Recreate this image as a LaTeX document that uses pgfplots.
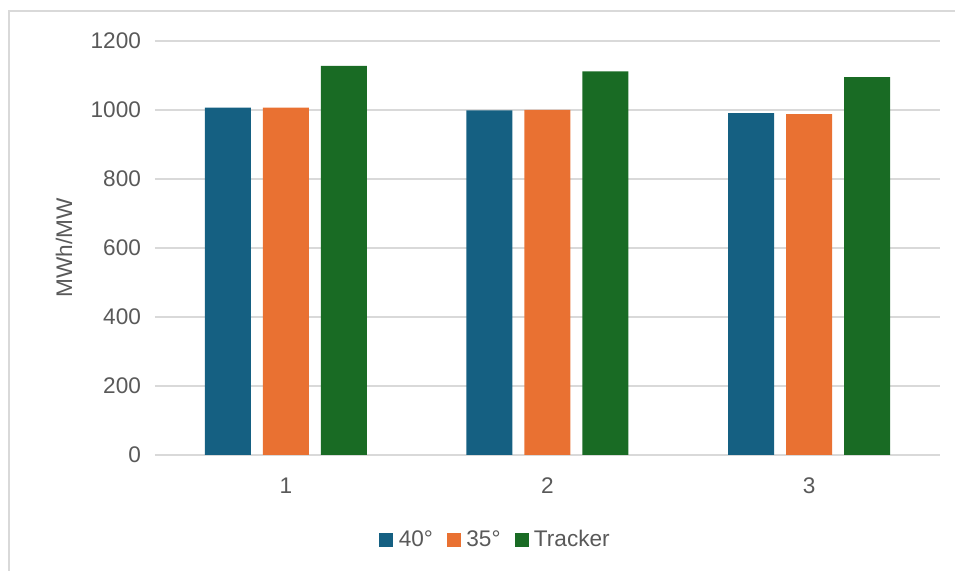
\documentclass[border=0pt]{standalone}
\usepackage{pgfplots}
\pgfplotsset{compat=1.18}
\usepackage{fontspec}
\setmainfont{Liberation Sans}
\definecolor{cA}{HTML}{156082}
\definecolor{cB}{HTML}{E97132}
\definecolor{cC}{HTML}{196B24}
\definecolor{txt}{HTML}{595959}
\definecolor{grd}{HTML}{D9D9D9}
\begin{document}
\begin{tikzpicture}
\path[use as bounding box] (-77.5pt,-58pt) rectangle (400pt,227.5pt);
\draw[grd, line width=0.75pt] (-73pt,-58pt) -- (-73pt,222pt) -- (400pt,222pt);
\begin{axis}[
  at={(0,0)}, anchor=south west,
  scale only axis, width=392.5pt, height=207pt,
  ybar=6pt, bar width=23pt,
  xmin=0.5, xmax=3.5, ymin=0, ymax=1200,
  xtick={1,2,3}, ytick={0,200,...,1200},
  axis line style={draw=none},
  major tick length=0pt,
  ymajorgrids, grid style={grd, line width=0.75pt},
  tick label style={font=\fontsize{11.3pt}{13pt}\selectfont, text=txt},
  yticklabel style={xshift=-3.5pt},
  xticklabel style={yshift=-8pt},
  /pgf/number format/assume math mode=true,
  /pgf/number format/1000 sep={},
  legend style={at={(0.4345,-42.5pt)}, anchor=center, draw=none, fill=none,
    legend columns=3, font=\fontsize{11.3pt}{13pt}\selectfont, text=txt,
    /tikz/every even column/.append style={column sep=5.5pt},
    /tikz/every odd column/.append style={column sep=1.2pt},
    nodes={inner sep=1.5pt}},
  legend image code/.code={\fill[#1] (0pt,-3.5pt) rectangle (7pt,3.5pt);},
]
\addplot[fill=cA, draw=none] coordinates {(1,1007) (2,999) (3,991)};
\addplot[fill=cB, draw=none] coordinates {(1,1007) (2,1000) (3,988)};
\addplot[fill=cC, draw=none] coordinates {(1,1128) (2,1112) (3,1095)};
\legend{40°, 35°, Tracker}
\end{axis}
\node[rotate=90, text=txt, font=\fontsize{11.3pt}{13pt}\selectfont] at (-45.5pt,103.5pt) {MWh/MW};
\end{tikzpicture}
\end{document}
